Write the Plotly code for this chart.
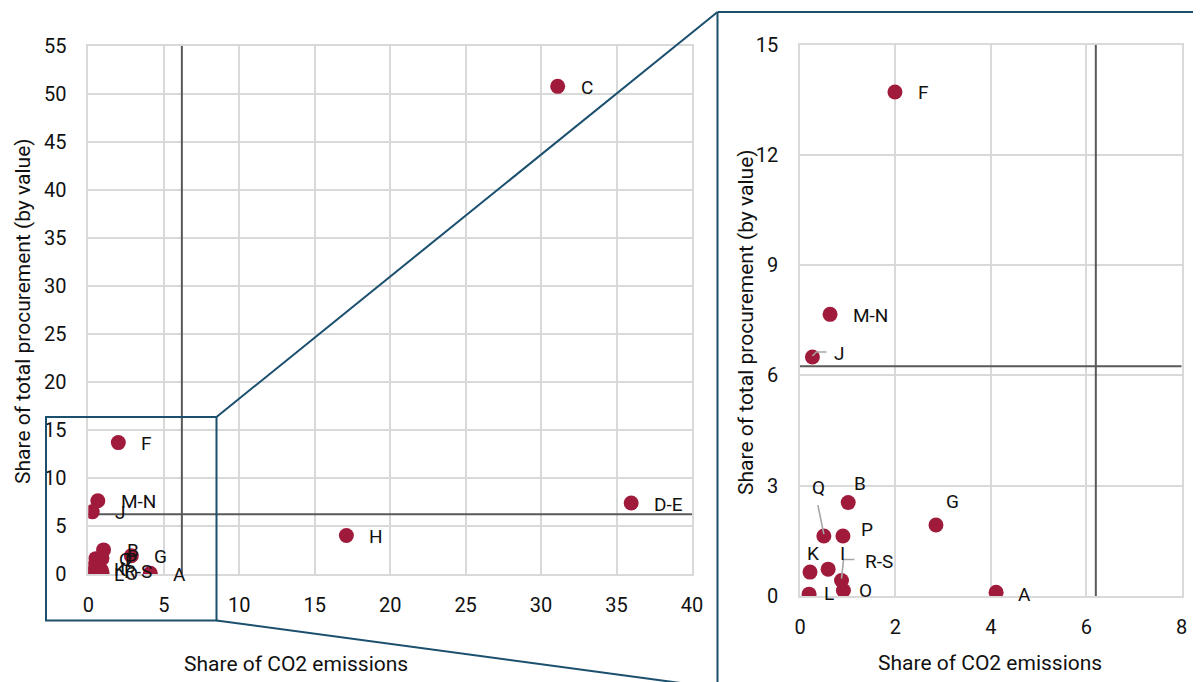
import plotly.graph_objects as go

W, H = 1201, 682
OFFX, OFFY = 8, 8   # page margin of the rendered html

# ---------------- data ----------------
sectors = ["A", "B", "C", "D-E", "F", "G", "H", "I", "J", "K", "L", "M-N", "O", "P", "Q", "R-S"]
co2_share = [4.11, 1.01, 31.1, 35.97, 1.99, 2.85, 17.1, 0.59, 0.26, 0.21, 0.19, 0.63, 0.91, 0.90, 0.50, 0.87]
procurement_share = [0.10, 2.54, 50.8, 7.42, 13.71, 1.93, 4.04, 0.73, 6.50, 0.65, 0.05, 7.66, 0.15, 1.63, 1.63, 0.42]
mean_co2 = 6.2
mean_procurement = 6.25

left_x_ticks = [0, 5, 10, 15, 20, 25, 30, 35, 40]
left_y_ticks = [0, 5, 10, 15, 20, 25, 30, 35, 40, 45, 50, 55]
right_x_ticks = [0, 2, 4, 6, 8]
right_y_ticks = [0, 3, 6, 9, 12, 15]

x_title = "Share of CO2 emissions"
y_title = "Share of total procurement (by value)"

# ---------------- styles ----------------
FONT = "Roboto"
MARKER = "#A01B3B"
GRID = "#D9D9D9"
MEANLINE = "#595959"
FRAME = "#1B4F6E"
LEADER = "#A6A6A6"
TXT = "#111111"

# label placement in the zoomed panel (center offsets in screen px: dx right, dy down)
right_label_offsets = {
    "B": (12, -19), "G": (17, -24), "Q": (-5, -49), "P": (24, -7),
    "K": (3, -19), "I": (14, -16), "R-S": (37, -19), "O": (22, 0),
    "L": (20, -1), "A": (28, 2),
}
# leader-line paths (pixel offsets from the point, y up)
right_leaders = {
    "Q": "M -6,31 L 0,2",
    "R-S": "M 13,21 L 2,21 L 0,2",
    "J": "M 14,5 L 4,5 L 0,1",
}


def px(x):
    return (x - OFFX) / W


def py(y):
    return 1 - (y - OFFY) / H


fig = go.Figure()

L_XR, L_YR = [0, 40], [0, 55]
R_XR, R_YR = [0, 8], [0, 15]

# mean lines (drawn under the markers)
for xa, ya, xr, yr in [("x", "y", L_XR, L_YR), ("x2", "y2", R_XR, R_YR)]:
    fig.add_trace(go.Scatter(x=[mean_co2, mean_co2], y=yr, mode="lines",
                             line=dict(color=MEANLINE, width=2), xaxis=xa, yaxis=ya,
                             hoverinfo="skip", showlegend=False))
    fig.add_trace(go.Scatter(x=xr, y=[mean_procurement, mean_procurement], mode="lines",
                             line=dict(color=MEANLINE, width=2), xaxis=xa, yaxis=ya,
                             hoverinfo="skip", showlegend=False))

for xa, ya in [("x", "y"), ("x2", "y2")]:
    fig.add_trace(go.Scatter(x=co2_share, y=procurement_share, mode="markers", text=sectors,
                             marker=dict(color=MARKER, size=15), xaxis=xa, yaxis=ya,
                             showlegend=False))

annotations = []
label_font = dict(family=FONT, size=19, color=TXT)

# left panel: all labels to the right of the point
for s, xv, yv in zip(sectors, co2_share, procurement_share):
    annotations.append(dict(x=xv, y=yv, xref="x", yref="y", text=s, showarrow=False,
                            xanchor="left", yanchor="middle", xshift=21, yshift=-1,
                            font=label_font))

# right panel
for s, xv, yv in zip(sectors, co2_share, procurement_share):
    if not (R_XR[0] <= xv <= R_XR[1] and R_YR[0] <= yv <= R_YR[1]):
        continue
    if s in right_label_offsets:
        dx, dy = right_label_offsets[s]
        annotations.append(dict(x=xv, y=yv, xref="x2", yref="y2", text=s, showarrow=False,
                                xanchor="center", yanchor="middle", xshift=dx, yshift=-dy,
                                font=label_font))
    elif s == "J":
        annotations.append(dict(x=xv, y=yv, xref="x2", yref="y2", text=s, showarrow=False,
                                xanchor="left", yanchor="middle", xshift=20, yshift=4,
                                font=label_font))
    else:
        annotations.append(dict(x=xv, y=yv, xref="x2", yref="y2", text=s, showarrow=False,
                                xanchor="left", yanchor="middle", xshift=21, yshift=-1,
                                font=label_font))

title_font = dict(family=FONT, size=21, color=TXT)
annotations += [
    dict(x=px(296), y=py(664), xref="paper", yref="paper", text=x_title, showarrow=False,
         xanchor="center", yanchor="middle", font=title_font),
    dict(x=px(990), y=py(663), xref="paper", yref="paper", text=x_title, showarrow=False,
         xanchor="center", yanchor="middle", font=title_font),
    dict(x=px(23), y=py(311), xref="paper", yref="paper", text=y_title, showarrow=False,
         textangle=-90, xanchor="center", yanchor="middle", font=title_font),
    dict(x=px(746), y=py(322), xref="paper", yref="paper", text=y_title, showarrow=False,
         textangle=-90, xanchor="center", yanchor="middle", font=title_font),
]

shapes = []
# leader lines
for s, xv, yv in zip(sectors, co2_share, procurement_share):
    if s in right_leaders:
        shapes.append(dict(type="path", xref="x2", yref="y2", xsizemode="pixel", ysizemode="pixel",
                           xanchor=xv, yanchor=yv, path=right_leaders[s],
                           line=dict(color=LEADER, width=1.6), layer="above"))

# zoom frame and connectors
shapes += [
    dict(type="rect", xref="paper", yref="paper", x0=px(46), x1=px(216.5), y0=py(620.5), y1=py(417),
         line=dict(color=FRAME, width=2), layer="above"),
    dict(type="line", xref="paper", yref="paper", x0=px(216.5), y0=py(417), x1=px(717.5), y1=py(12),
         line=dict(color=FRAME, width=2)),
    dict(type="line", xref="paper", yref="paper", x0=px(216.5), y0=py(620.5), x1=px(717.5), y1=py(688),
         line=dict(color=FRAME, width=2)),
    dict(type="line", xref="paper", yref="paper", x0=px(717.5), y0=py(12), x1=px(1215), y1=py(12),
         line=dict(color=FRAME, width=2)),
    dict(type="line", xref="paper", yref="paper", x0=px(717.5), y0=py(12), x1=px(717.5), y1=py(700),
         line=dict(color=FRAME, width=2)),
]

tick_font = dict(family=FONT, size=20, color=TXT)


def axis(domain, rng, ticks, standoff):
    return dict(domain=domain, range=rng, tickmode="array", tickvals=ticks, ticktext=[str(t) for t in ticks],
                showgrid=True, gridcolor=GRID, gridwidth=1.5, zeroline=False,
                showline=True, linecolor=GRID, linewidth=1.5, mirror=True,
                ticks="", tickfont=tick_font, ticklabelstandoff=standoff, automargin=False,
                fixedrange=True)


fig.update_layout(
    width=W, height=H,
    margin=dict(l=0, r=0, t=0, b=0),
    paper_bgcolor="white", plot_bgcolor="white",
    xaxis=dict(**axis([px(88.3), px(692)], L_XR, left_x_ticks, 12), anchor="y"),
    yaxis=dict(**axis([py(574.3), py(46)], L_YR, left_y_ticks, 16), anchor="x"),
    xaxis2=dict(**axis([px(800), px(1181.7)], R_XR, right_x_ticks, 12), anchor="y2"),
    yaxis2=dict(**axis([py(596), py(44.5)], R_YR, right_y_ticks, 16), anchor="x2"),
    annotations=annotations,
    shapes=shapes,
    showlegend=False,
    font=dict(family=FONT, color=TXT),
)

fig.write_html("out.html")
